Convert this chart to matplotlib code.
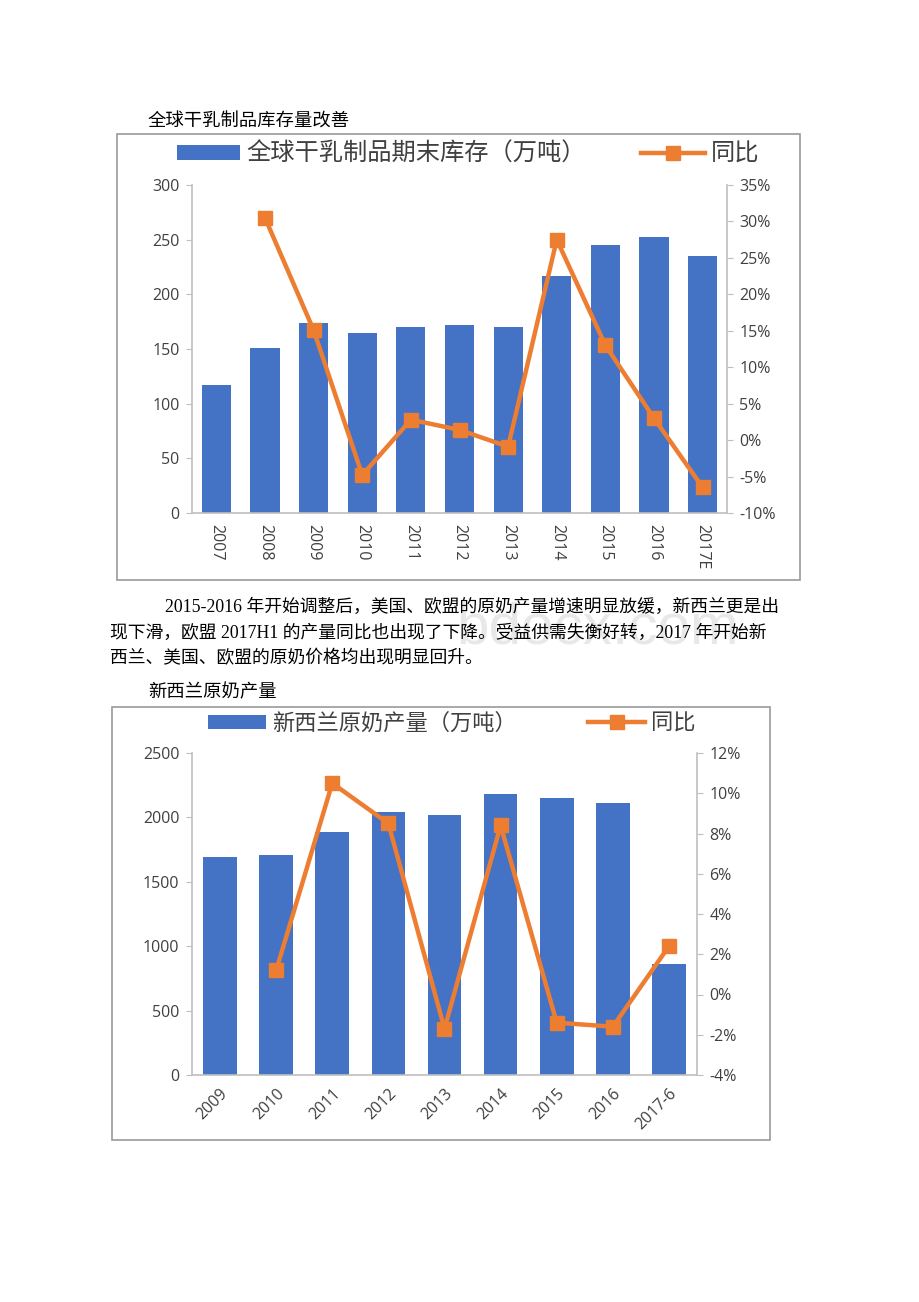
import numpy as np
import matplotlib
matplotlib.use('Agg')
import matplotlib.pyplot as plt
from matplotlib.patches import Rectangle
from matplotlib.ticker import FuncFormatter

plt.rcParams['font.family'] = ['Open Sans', 'Noto Sans CJK SC']

### DATA ###
years_1 = ['2007', '2008', '2009', '2010', '2011', '2012', '2013', '2014', '2015', '2016', '2017E']
stock_1 = [117, 151, 174, 165, 170, 172, 170, 217, 245, 252, 235]
yoy_1 = [np.nan, 30.5, 15.1, -4.8, 2.8, 1.4, -0.9, 27.5, 13.0, 3.0, -6.5]

years_2 = ['2009', '2010', '2011', '2012', '2013', '2014', '2015', '2016', '2017-6']
milk_2 = [1690, 1708, 1887, 2042, 2015, 2182, 2150, 2115, 862]
yoy_2 = [np.nan, 1.2, 10.5, 8.5, -1.7, 8.4, -1.4, -1.6, 2.4]

title_1 = '全球干乳制品库存量改善'
title_2 = '新西兰原奶产量'
legend_1 = ['全球干乳制品期末库存（万吨）', '同比']
legend_2 = ['新西兰原奶产量（万吨）', '同比']
para = ['2015-2016 年开始调整后，美国、欧盟的原奶产量增速明显放缓，新西兰更是出',
        '现下滑，欧盟 2017H1 的产量同比也出现了下降。受益供需失衡好转，2017 年开始新',
        '西兰、美国、欧盟的原奶价格均出现明显回升。']

W, H = 920, 1302
BLUE = '#4472C4'
ORANGE = '#ED7D31'
GREY = '#bfbfbf'
TXT = '#404040'
doc_font = ['Liberation Serif', 'Noto Sans CJK SC']

fig = plt.figure(figsize=(W / 100, H / 100), dpi=100)


def px(x0, y0, x1, y1):
    # pixel box (top-left origin) -> figure fraction rect
    return [x0 / W, 1 - y1 / H, (x1 - x0) / W, (y1 - y0) / H]


def frame(x0, y0, x1, y1):
    fig.patches.append(Rectangle((x0 / W, 1 - y1 / H), (x1 - x0) / W, (y1 - y0) / H,
                                 transform=fig.transFigure, fill=False,
                                 edgecolor='#9a9a9a', linewidth=1.2))


def combo(rect, cats, bars, line, ylim, y2lim, y2step, rot, leg_labels, leg_xy, leg_fs, colsp):
    ax = fig.add_axes(rect)
    x = np.arange(len(cats))
    b = ax.bar(x, bars, width=0.6, color=BLUE, zorder=2)
    ax.set_xlim(-0.5, len(cats) - 0.5)
    ax.set_ylim(*ylim)
    ax.set_xticks(x)
    if rot == -90:
        ax.set_xticklabels(cats, rotation=-90, ha='center', va='top')
    else:
        ax.set_xticklabels(cats, rotation=45, ha='right', va='top', rotation_mode='anchor')
    ax.tick_params(axis='x', length=0, pad=8, labelsize=11.5, labelcolor=TXT)
    ax.tick_params(axis='y', length=4, color=GREY, labelsize=11.5, labelcolor=TXT, pad=5)
    ax.spines['top'].set_visible(False)
    ax.spines['right'].set_visible(False)
    for s in ['left', 'bottom']:
        ax.spines[s].set_color(GREY)
        ax.spines[s].set_linewidth(1.2)

    ax2 = ax.twinx()
    l, = ax2.plot(x, line, color=ORANGE, linewidth=3.2, marker='s', markersize=10, zorder=3)
    ax2.set_ylim(*y2lim)
    ax2.set_yticks(np.arange(y2lim[0], y2lim[1] + 0.1, y2step))
    ax2.yaxis.set_major_formatter(FuncFormatter(lambda v, p: f'{v:.0f}%'))
    ax2.tick_params(axis='y', length=4, color=GREY, labelsize=11.5, labelcolor=TXT, pad=5)
    for s in ['top', 'left', 'bottom']:
        ax2.spines[s].set_visible(False)
    ax2.spines['right'].set_color(GREY)
    ax2.spines['right'].set_linewidth(1.2)

    fig.legend([b, l], leg_labels, loc='center', bbox_to_anchor=leg_xy, ncol=2,
               frameon=False, fontsize=leg_fs, handlelength=2.6, handleheight=0.6,
               columnspacing=colsp, handletextpad=0.25, labelcolor=TXT)
    return ax, ax2


# chart 1
fig.text(148 / W, 1 - 122 / H, title_1, family=doc_font, fontsize=13.2, va='center', ha='left')
frame(117, 134, 800, 580)
combo(px(192, 185, 727, 513), years_1, stock_1, yoy_1, (0, 300), (-10, 35), 5, -90,
      legend_1, (468 / W, 1 - 155 / H), 17.5, 2.3)

# paragraph
fig.text(165 / W, 1 - 607 / H, para[0], family=doc_font, fontsize=12.8, va='center', ha='left')
fig.text(110 / W, 1 - 633 / H, para[1], family=doc_font, fontsize=12.8, va='center', ha='left')
fig.text(110 / W, 1 - 659 / H, para[2], family=doc_font, fontsize=12.8, va='center', ha='left')
fig.text(598 / W, 1 - 628 / H, 'bdocx.com', fontsize=42, color='#e8e8e8', va='center',
         ha='center', family='Liberation Sans', zorder=0)

# chart 2
fig.text(148 / W, 1 - 693 / H, title_2, family=doc_font, fontsize=13.2, va='center', ha='left')
frame(112, 707, 770, 1140)
combo(px(192, 753, 697, 1075), years_2, milk_2, yoy_2, (0, 2500), (-4, 12), 2, 45,
      legend_2, (452 / W, 1 - 724 / H), 16, 3.2)

fig.savefig('out.png', dpi=100, facecolor='white')
